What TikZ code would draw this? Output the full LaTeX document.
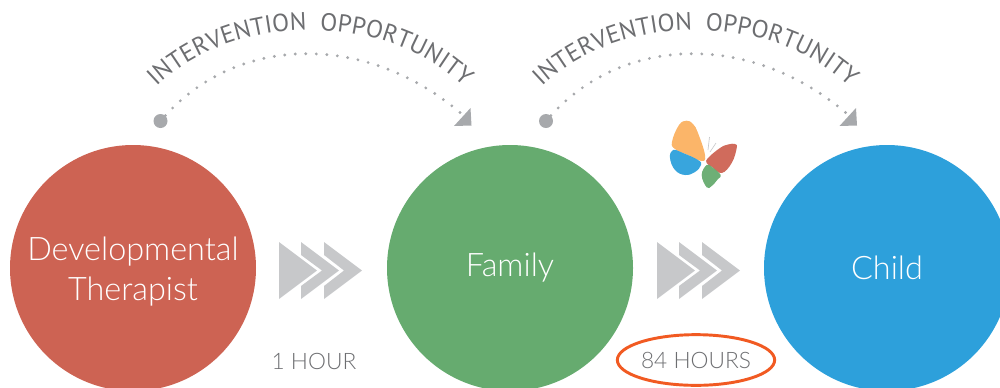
\documentclass[tikz,border=0pt]{standalone}
\usepackage{fontspec}
\setmainfont{Lato Light}
\newfontfamily\arcfont{PT Sans}
\usetikzlibrary{positioning,shapes.geometric,decorations.text}
\definecolor{redcircle}{HTML}{CD6353}
\definecolor{greencircle}{HTML}{66AB6F}
\definecolor{bluecircle}{HTML}{2DA0DB}
\definecolor{labelgrey}{HTML}{6D6E71}
\definecolor{arcgrey}{HTML}{A7A9AC}
\definecolor{chevgrey}{HTML}{C7C8CA}
\definecolor{ringorange}{HTML}{F15A22}
\definecolor{wingorange}{HTML}{FBB161}
\begin{document}
\begin{tikzpicture}[
        x=0.75pt,y=-0.75pt,
        person/.style={circle,inner sep=0pt,outer sep=0pt,minimum size=184.5pt,text=white,align=center,font=\fontsize{24.3}{30}\selectfont},
        hourlabel/.style={text=labelgrey,inner sep=0pt,font=\fontsize{17}{20}\selectfont},
        startdot/.style={circle,fill=arcgrey,inner sep=0pt,minimum size=10.5pt},
        dottedarc/.style={arcgrey,line width=2.4pt,line cap=round,dash pattern=on 0pt off 7.9pt},
        wing/.style={opacity=0.95},
        ]
    \path [use as bounding box,clip] (0,0) rectangle (1000,387);
    \node (therapist) [person,fill=redcircle] at (133,268) {\rule{0pt}{23pt}Developmental\\Therapist};
    \node (family) [person,fill=greencircle,right=98.25pt of therapist] {Family};
    \node (child) [person,fill=bluecircle,right=98.25pt of family] {Child};
    % arcs over the circles
    \foreach \dx/\name in {0/first,385.5/second} {
        \begin{scope}[xshift=\dx*0.75pt]
            \node (dot\name) [startdot] at (160.5,121) {};
            \coordinate (tip\name) at (464,116);
            \draw [dottedarc] (dot\name) .. controls (240,33) and (370,33) .. (tip\name);
            \fill [arcgrey] (470.5,108) -- (454,126) -- (471.5,125.5) -- cycle;
            \path [decorate,decoration={text along path,text align=center,
                text={|\arcfont\fontsize{18.6}{20}\selectfont\color{labelgrey}|INTERVENTION{ }{ }OPPORTUNITY}}]
                (150,93) .. controls (228,9) and (392,9) .. (470,93);
        \end{scope}
    }
    % chevrons
    \foreach \dx in {0,378} {
        \fill [chevgrey] (279+\dx,242) -- (317+\dx,270.5) -- (279+\dx,299) -- cycle;
        \fill [chevgrey] (301+\dx,242) -- (339+\dx,270.5) -- (301+\dx,299) -- (301+\dx,286)
            -- (322+\dx,270.5) -- (301+\dx,255) -- cycle;
        \fill [chevgrey] (324+\dx,242) -- (362+\dx,270.5) -- (324+\dx,299) -- (324+\dx,286)
            -- (344+\dx,270.5) -- (324+\dx,255) -- cycle;
    }
    \node (hourone) [hourlabel] at (314,361) {1 HOUR};
    \node (hoursmany) [hourlabel,ellipse,draw=ringorange,line width=2.2pt,minimum width=118pt,minimum height=38pt] at (696,360) {84 HOURS};
    % butterfly
    \fill [wing,wingorange] plot [smooth cycle,tension=0.7] coordinates {(686.7,120.7) (679,125) (672,141.7) (675,149) (688,155) (701.7,161) (705,155) (698,133) (693,124)};
    \fill [wing,bluecircle] plot [smooth cycle,tension=0.7] coordinates {(673,150) (670,158) (675,170) (685,175) (695,172) (701,165) (698,160) (683,153)};
    \fill [wing,redcircle] plot [smooth cycle,tension=0.7] coordinates {(735,144) (736.7,148) (731.7,163) (721.7,173) (712,167) (706.7,163) (708,158) (720,148) (728,144.5)};
    \fill [wing,greencircle] plot [smooth cycle,tension=0.7] coordinates {(706.7,165) (701.7,175) (706.7,187.3) (711.7,186) (718,179) (720.7,175) (712,167)};
    \draw [chevgrey,line width=0.5pt] (708,150) -- (709.5,137);
    \draw [chevgrey,line width=0.5pt] (710,152) -- (716,143);
\end{tikzpicture}
\end{document}
